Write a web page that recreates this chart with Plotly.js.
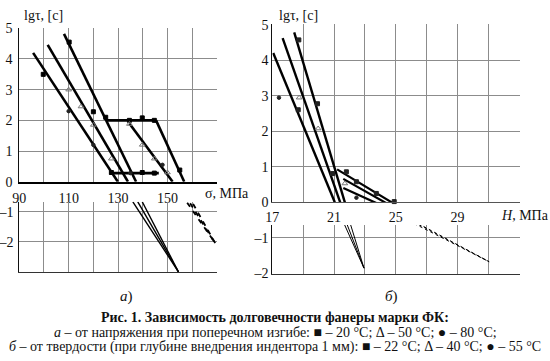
<!DOCTYPE html>
<html>
<head>
<meta charset="utf-8">
<script src="https://cdn.plot.ly/plotly-3.0.1.min.js"></script>
<style>
html,body{margin:0;padding:0;background:#fff;}
#chart{width:550px;height:361px;}
#chart svg text{font-family:'Liberation Serif', serif !important;}
</style>
</head>
<body>
<div id="chart"></div>
<script>
// ---------- Panel а: lg(tau) vs stress sigma, MPa ----------
const aXTicks = [90, 100, 110, 120, 130, 140, 150, 160, 170];
const aXText  = ['90', '', '110', '', '130', '', '150', '', ''];
const aYTopTicks = [0, 1, 2, 3, 4, 5];
const aYBotTicks = [-3, -2, -1];
const aYBotText  = ['', '–2', '–1'];

const aL1x = [95.6, 129.9],  aL1y = [4.2, 0];
const aL2x = [101.5, 134.0], aL2y = [4.46, 0];
const aL3x = [108.1, 137.3], aL3y = [4.82, 0];
const aH1x = [125.2, 145.4], aH1y = [2.0, 2.0];
const aH2x = [126.6, 146.5], aH2y = [0.28, 0.28];
const aR1x = [134.6, 152.1], aR1y = [1.9, 0];
const aR2x = [145.4, 156.8], aR2y = [2.0, 0];
// extrapolations (lower part)
const aE1x = [136.0, 154.5], aE1y = [-0.67, -3];
const aE2x = [138.0, 154.5], aE2y = [-0.67, -3];
const aE3x = [139.8, 154.5], aE3y = [-0.67, -3];
const aD1x = [158.0, 169.4], aD1y = [-0.70, -2.05];
const aD2x = [159.2, 169.4], aD2y = [-0.72, -2.05];
const aD3x = [160.4, 169.4], aD3y = [-0.74, -2.05];
// measured points: ■ 20 °C, Δ 50 °C, ● 80 °C
const aSqX  = [99.7, 110.2, 120.0, 125.0, 134.6, 139.8, 144.7, 127.3, 139.8, 144.7, 155.0];
const aSqY  = [3.5, 4.55, 2.28, 2.1, 2.0, 2.08, 2.0, 0.3, 0.3, 0.28, 0.38];
const aTriX = [110.0, 115.0, 120.0, 127.3, 134.6, 139.8, 144.7, 150.0];
const aTriY = [3.0, 2.45, 1.85, 0.75, 1.88, 1.2, 0.75, 0.3];
const aCirX = [110.0, 120.0, 135.0, 148.0];
const aCirY = [2.3, 1.2, 0.28, 0.55];

// ---------- Panel б: lg(tau) vs hardness H, MPa ----------
const bXTicks = [17, 19, 21, 23, 25, 27, 29, 31, 33];
const bXText  = ['17', '', '21', '', '25', '', '29', '', ''];
const bYTopTicks = [0, 1, 2, 3, 4, 5];
const bYBotTicks = [-2, -1];
const bYBotText  = ['–2', '–1'];

const bL1x = [17.06, 21.05], bL1y = [4.21, 0];
const bL2x = [17.67, 21.4],  bL2y = [4.63, 0];
const bL3x = [18.42, 21.7],  bL3y = [4.79, 0];
const bAx = [21.2, 25.3], bAy = [0.93, -0.15];
const bBx = [21.6, 24.9], bBy = [0.66, -0.15];
const bCx = [21.6, 24.4], bCy = [0.40, -0.15];
const bE1x = [21.69, 22.94], bE1y = [-0.64, -1.85];
const bE2x = [21.86, 22.94], bE2y = [-0.64, -1.85];
const bE3x = [22.08, 22.94], bE3y = [-0.64, -1.85];
const bD1x = [26.2, 31.05], bD1y = [-0.60, -1.67];
const bD2x = [26.5, 31.05], bD2y = [-0.63, -1.67];
const bD3x = [26.8, 31.05], bD3y = [-0.68, -1.67];
// measured points: ■ 22 °C, Δ 40 °C, ● 55 °C
const bSqX  = [18.72, 18.68, 19.93, 20.9, 21.8, 22.45, 23.74, 24.9];
const bSqY  = [4.58, 2.61, 2.78, 0.81, 0.86, 0.58, 0.25, 0.02];
const bTriX = [18.74, 19.97, 21.7];
const bTriY = [2.95, 2.08, 0.53];
const bCirX = [17.43, 22.45, 20.94];
const bCirY = [2.95, 0.13, 0.81];

const FONT = 'Liberation Serif';
const W = 550, H = 361;
const X = p => p / W;
const Y = p => 1 - p / H;

function line(x, y, xa, ya, width, dash, color) {
  return {x: x, y: y, xaxis: xa, yaxis: ya, mode: 'lines', type: 'scatter',
    line: {color: color || '#000', width: width, dash: dash || 'solid'}, hoverinfo: 'skip', showlegend: false};
}
function pts(x, y, xa, ya, symbol, size, color) {
  return {x: x, y: y, xaxis: xa, yaxis: ya, mode: 'markers', type: 'scatter', cliponaxis: false,
    marker: {symbol: symbol, size: size, color: color, line: {color: color, width: 1}}, hoverinfo: 'skip', showlegend: false};
}

const traces = [
  line(aL1x, aL1y, 'x', 'y', 2.6), line(aL2x, aL2y, 'x', 'y', 2.6), line(aL3x, aL3y, 'x', 'y', 2.6),
  line(aH1x, aH1y, 'x', 'y', 2.8), line(aH2x, aH2y, 'x', 'y', 2.8),
  line(aR1x, aR1y, 'x', 'y', 2.6), line(aR2x, aR2y, 'x', 'y', 2.6),
  line(aE1x, aE1y, 'x2', 'y2', 1.4), line(aE2x, aE2y, 'x2', 'y2', 1.4), line(aE3x, aE3y, 'x2', 'y2', 1.4),
  line(aD1x, aD1y, 'x2', 'y2', 1.8, '5px,5px'), line(aD2x, aD2y, 'x2', 'y2', 1.8, '5px,5px'), line(aD3x, aD3y, 'x2', 'y2', 1.8, '5px,5px'),
  pts(aSqX, aSqY, 'x', 'y', 'square', 4, '#000'),
  pts(aTriX, aTriY, 'x', 'y', 'triangle-up-open', 5, '#777'),
  pts(aCirX, aCirY, 'x', 'y', 'circle', 3.5, '#222'),

  line(bL1x, bL1y, 'x3', 'y3', 2.4), line(bL2x, bL2y, 'x3', 'y3', 2.4), line(bL3x, bL3y, 'x3', 'y3', 2.4),
  line(bAx, bAy, 'x3', 'y3', 2.2), line(bBx, bBy, 'x3', 'y3', 2.2), line(bCx, bCy, 'x3', 'y3', 2.2),
  line(bE1x, bE1y, 'x4', 'y4', 1), line(bE2x, bE2y, 'x4', 'y4', 1), line(bE3x, bE3y, 'x4', 'y4', 1),
  line(bD1x, bD1y, 'x4', 'y4', 1, 'dot'), line(bD2x, bD2y, 'x4', 'y4', 1, 'dot'), line(bD3x, bD3y, 'x4', 'y4', 1, 'dot'),
  pts(bSqX, bSqY, 'x3', 'y3', 'square', 4, '#222'),
  pts(bTriX, bTriY, 'x3', 'y3', 'triangle-up-open', 5, '#777'),
  pts(bCirX, bCirY, 'x3', 'y3', 'circle', 3.5, '#222')
];

const GRID = '#8c8c8c';
const tickFont = {family: FONT, size: 14, color: '#111'};
function xax(domain, range, ticks, text, anchor, showLabels, lineColor, lineWidth) {
  return {domain: domain, range: range, anchor: anchor, tickmode: 'array', tickvals: ticks, ticktext: text,
    showticklabels: showLabels, ticks: '', showgrid: true, gridcolor: GRID, gridwidth: 1,
    zeroline: false, showline: true, linecolor: lineColor, linewidth: lineWidth, mirror: false,
    tickfont: tickFont, ticklabelstandoff: 2, fixedrange: true};
}
function yax(domain, range, ticks, text, anchor, standoff) {
  return {domain: domain, range: range, anchor: anchor, tickmode: 'array', tickvals: ticks, ticktext: text,
    ticks: '', showgrid: true, gridcolor: GRID, gridwidth: 1, zeroline: false,
    showline: true, linecolor: '#111', linewidth: 1, mirror: false, tickfont: tickFont,
    ticklabelstandoff: standoff, fixedrange: true};
}

const aXDom = [X(19.3), X(217.3)];
const bXDom = [X(272.3), X(520)];

const layout = {
  width: W, height: H, margin: {l: 0, r: 0, t: 0, b: 0},
  paper_bgcolor: '#fff', plot_bgcolor: 'rgba(0,0,0,0)',
  font: {family: FONT, color: '#111'}, showlegend: false,
  xaxis:  xax(aXDom, [90, 170.2], aXTicks, aXText, 'y', true, '#000', 2.6),
  yaxis:  yax([Y(181.7), Y(27.7)], [0, 5.02], aYTopTicks, aYTopTicks.map(String), 'x', 3),
  xaxis2: xax(aXDom, [90, 170.2], aXTicks, aXText, 'y2', false, '#333', 1),
  yaxis2: yax([Y(272), Y(201.7)], [-3, -0.667], aYBotTicks, aYBotText, 'x2', 2),
  xaxis3: xax(bXDom, [17, 33.05], bXTicks, bXText, 'y3', true, '#555', 1),
  yaxis3: yax([Y(202.3), Y(24.3)], [0, 5.02], bYTopTicks, bYTopTicks.map(String), 'x3', 0),
  xaxis4: xax(bXDom, [17, 33.05], bXTicks, bXText, 'y4', false, '#333', 1),
  yaxis4: yax([Y(273.5), Y(225)], [-2, -0.64], bYBotTicks, bYBotText, 'x4', 0),
  annotations: [
    {text: 'lgτ, [c]', x: X(22), y: Y(15), xref: 'paper', yref: 'paper', xanchor: 'left', yanchor: 'middle', showarrow: false, font: {family: FONT, size: 14}},
    {text: 'lgτ, [c]', x: X(277), y: Y(15), xref: 'paper', yref: 'paper', xanchor: 'left', yanchor: 'middle', showarrow: false, font: {family: FONT, size: 14}},
    {text: 'σ, МПа', x: X(203), y: Y(193), xref: 'paper', yref: 'paper', xanchor: 'left', yanchor: 'middle', showarrow: false, font: {family: FONT, size: 14}},
    {text: '<i>H</i>, МПа', x: X(499), y: Y(216), xref: 'paper', yref: 'paper', xanchor: 'left', yanchor: 'middle', showarrow: false, font: {family: FONT, size: 14}},
    {text: '<i>а</i>)', x: X(126), y: Y(296), xref: 'paper', yref: 'paper', xanchor: 'center', yanchor: 'middle', showarrow: false, font: {family: FONT, size: 15}},
    {text: '<i>б</i>)', x: X(391), y: Y(296), xref: 'paper', yref: 'paper', xanchor: 'center', yanchor: 'middle', showarrow: false, font: {family: FONT, size: 15}},
    {text: '<b>Рис. 1. Зависимость долговечности фанеры марки ФК:</b>', x: 0.5, y: Y(317), xref: 'paper', yref: 'paper', xanchor: 'center', yanchor: 'middle', showarrow: false, font: {family: FONT, size: 14}},
    {text: '<i>а</i> – от напряжения при поперечном изгибе: ■ – 20 °С; Δ – 50 °С; ● – 80 °С;', x: 0.5, y: Y(332), xref: 'paper', yref: 'paper', xanchor: 'center', yanchor: 'middle', showarrow: false, font: {family: FONT, size: 14}},
    {text: '<i>б</i> – от твердости (при глубине внедрения индентора 1 мм): ■ – 22 °С; Δ – 40 °С; ● – 55 °С', x: 0.5, y: Y(347), xref: 'paper', yref: 'paper', xanchor: 'center', yanchor: 'middle', showarrow: false, font: {family: FONT, size: 14}}
  ]
};

Plotly.newPlot('chart', traces, layout, {staticPlot: true, displayModeBar: false});
</script>
</body>
</html>
